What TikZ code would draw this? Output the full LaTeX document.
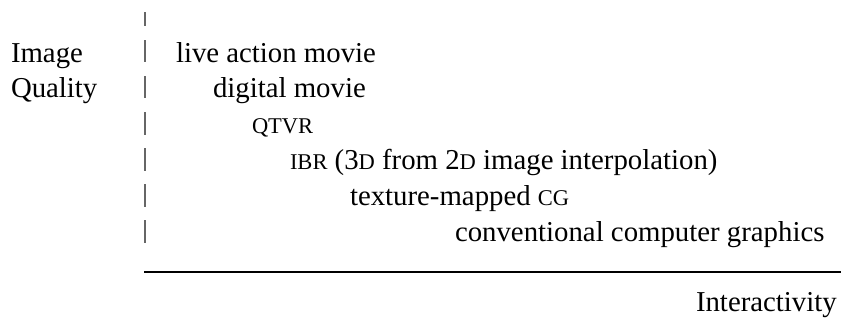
\documentclass[tikz,border=0pt]{standalone}
\usepackage{fontspec}
\setmainfont{Liberation Serif}
\newfontfamily\timesfont{Liberation Serif}
\newcommand{\fakesc}[1]{{\fontsize{22.5}{22.5}\selectfont #1}}
\begin{document}
\begin{tikzpicture}[x=1pt,y=-1pt,
  lbl/.style={anchor=base west,inner sep=0pt,outer sep=0pt,font=\timesfont\fontsize{28.8}{28.8}\selectfont},
  bar/.style={line width=1.5pt,black!60},
  axis/.style={line width=1.3pt,black}]
\useasboundingbox (0,0) rectangle (844,325);
\node[lbl] (img) at (11,62) {Image};
\node[lbl] (qual) at (11,97) {Quality};
\node[lbl] (l1) at (176,62) {live action movie};
\node[lbl] (l2) at (213,97) {digital movie};
\node[lbl] (l3) at (252,133) {\fakesc{QTVR}};
\node[lbl] (l4) at (290,169) {\fakesc{IBR} (3\fakesc{D} from 2\fakesc{D} image interpolation)};
\node[lbl] (l5) at (350,205) {texture-mapped \fakesc{CG}};
\node[lbl] (l6) at (455,241) {conventional computer graphics};
\node[lbl] (ia) at (696,311) {Interactivity};
\foreach \a/\b in {12/26,40/62,76/98,112/135,148/171,184/207,220/243}
  \draw[bar] (145,\a) -- (145,\b);
\coordinate (ax0) at (144,272);
\coordinate (ax1) at (841,272);
\draw[axis] (ax0) -- (ax1);
\end{tikzpicture}
\end{document}
